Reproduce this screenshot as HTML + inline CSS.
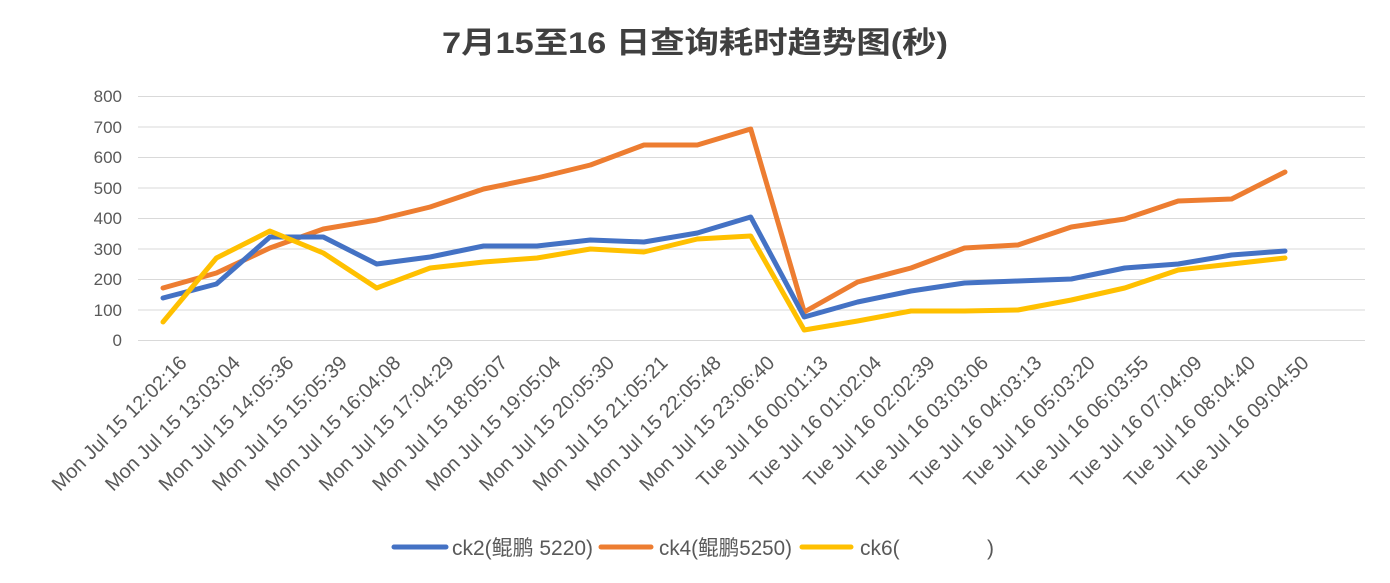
<!DOCTYPE html>
<html><head><meta charset="utf-8"><style>
body{margin:0;background:#fff;}
svg{display:block;font-family:"Liberation Sans","Noto Sans CJK SC",sans-serif;}
</style></head><body>
<svg width="1390" height="583" viewBox="0 0 1390 583">
<rect width="1390" height="583" fill="#fff"/>
<text x="442" y="53" font-size="30" font-weight="bold" fill="#404040" textLength="506" lengthAdjust="spacingAndGlyphs">7月15至16 日查询耗时趋势图(秒)</text>
<g stroke="#d9d9d9" stroke-width="1">
<line x1="138" x2="1365" y1="96.5" y2="96.5"/><line x1="138" x2="1365" y1="127" y2="127"/>
<line x1="138" x2="1365" y1="157.5" y2="157.5"/><line x1="138" x2="1365" y1="188" y2="188"/>
<line x1="138" x2="1365" y1="218.5" y2="218.5"/><line x1="138" x2="1365" y1="249" y2="249"/>
<line x1="138" x2="1365" y1="279.5" y2="279.5"/><line x1="138" x2="1365" y1="310" y2="310"/>
<line x1="138" x2="1365" y1="340.5" y2="340.5"/>
</g>
<g font-size="17" fill="#595959" text-anchor="end">
<text x="122" y="102">800</text><text x="122" y="133">700</text><text x="122" y="163">600</text>
<text x="122" y="194">500</text><text x="122" y="224">400</text><text x="122" y="255">300</text>
<text x="122" y="285">200</text><text x="122" y="316">100</text><text x="122" y="346">0</text>
</g>
<g font-size="20" fill="#595959" text-anchor="end" id="lbl"></g>
<g fill="none" stroke-width="5" stroke-linejoin="round" stroke-linecap="round">
<polyline id="s4" stroke="#ed7d31"/>
<polyline id="s2" stroke="#4472c4"/>
<polyline id="s6" stroke="#ffc000"/>
</g>
<g font-size="21" fill="#595959">
<line x1="394" x2="446" y1="547" y2="547" stroke="#4472c4" stroke-width="5" stroke-linecap="round"/>
<text x="452" y="555" textLength="141" lengthAdjust="spacingAndGlyphs">ck2(鲲鹏 5220)</text>
<line x1="601" x2="651" y1="547" y2="547" stroke="#ed7d31" stroke-width="5" stroke-linecap="round"/>
<text x="659" y="555" textLength="133" lengthAdjust="spacingAndGlyphs">ck4(鲲鹏5250)</text>
<line x1="802" x2="851" y1="547" y2="547" stroke="#ffc000" stroke-width="5" stroke-linecap="round"/>
<text x="860" y="555">ck6(</text>
<text x="987" y="555">)</text>
</g>
<script>
var labels=["Mon Jul 15 12:02:16","Mon Jul 15 13:03:04","Mon Jul 15 14:05:36","Mon Jul 15 15:05:39","Mon Jul 15 16:04:08","Mon Jul 15 17:04:29","Mon Jul 15 18:05:07","Mon Jul 15 19:05:04","Mon Jul 15 20:05:30","Mon Jul 15 21:05:21","Mon Jul 15 22:05:48","Mon Jul 15 23:06:40","Tue Jul 16 00:01:13","Tue Jul 16 01:02:04","Tue Jul 16 02:02:39","Tue Jul 16 03:03:06","Tue Jul 16 04:03:13","Tue Jul 16 05:03:20","Tue Jul 16 06:03:55","Tue Jul 16 07:04:09","Tue Jul 16 08:04:40","Tue Jul 16 09:04:50"];
var X=function(i){return 163+i*53.43;};
var g=document.getElementById("lbl"),ns="http://www.w3.org/2000/svg";
labels.forEach(function(l,i){var t=document.createElementNS(ns,"text");var x=X(i)+25,y=364;t.setAttribute("x",x);t.setAttribute("y",y);t.setAttribute("transform","rotate(-45 "+x+" "+y+")");t.textContent=l;g.appendChild(t);});
var d={s2:[298,284,237,237,264,257,246,246,240,242,233,217,317,302,291,283,281,279,268,264,255,251],
s4:[288,273,248,229,220,207,189,178,165,145,145,129,312,282,268,248,245,227,219,201,199,172],
s6:[322,258,231,253,288,268,262,258,249,252,239,236,330,321,311,311,310,300,288,270,264,258]};
for(var k in d){document.getElementById(k).setAttribute("points",d[k].map(function(y,i){return X(i).toFixed(1)+","+y;}).join(" "));}
</script>
</svg>
</body></html>
